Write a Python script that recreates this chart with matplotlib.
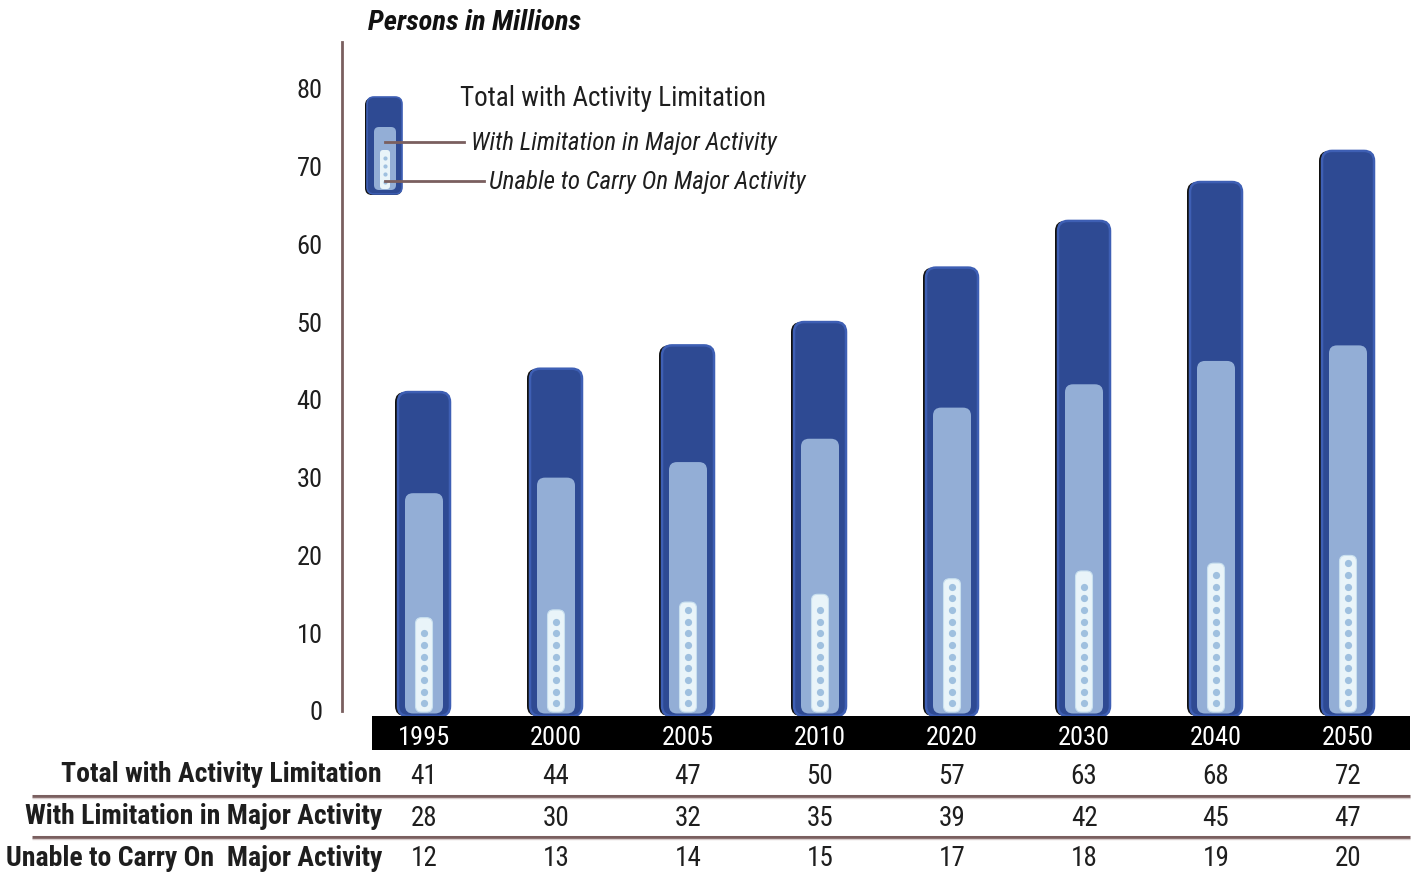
import matplotlib
matplotlib.use("Agg")
import matplotlib.pyplot as plt
from matplotlib.patches import FancyBboxPatch, Rectangle
from matplotlib.transforms import blended_transform_factory
import numpy as np

# ---- data -------------------------------------------------------------
years = ["1995", "2000", "2005", "2010", "2020", "2030", "2040", "2050"]
total_limited = [41, 44, 47, 50, 57, 63, 68, 72]
major_limited = [28, 30, 32, 35, 39, 42, 45, 47]
unable_major = [12, 13, 14, 15, 17, 18, 19, 20]
row_labels = ["Total with Activity Limitation",
              "With Limitation in Major Activity",
              "Unable to Carry On  Major Activity"]
y_ticks = [0, 10, 20, 30, 40, 50, 60, 70, 80]

# ---- style ------------------------------------------------------------
FONT = ["Liberation Sans Narrow", "Roboto Condensed", "DejaVu Sans"]
plt.rcParams["font.family"] = FONT
DARK = "#2e4a93"
RIM = "#3e5fb4"
LIGHT = "#93aed6"
PALE = "#e9f4f9"
DOT = "#9fc0df"
BROWN = "#7a5f5f"
INK = "#1e1e1e"

W, H = 1419, 873
fig = plt.figure(figsize=(W / 100, H / 100), dpi=100)
fig.patch.set_facecolor("white")

# main plotting area
ax_left, ax_right, ax_top, ax_bottom = 342, 1410, 42, 711
ax = fig.add_axes([ax_left / W, (H - ax_bottom) / H,
                   (ax_right - ax_left) / W, (ax_bottom - ax_top) / H])
x0_px, step_px = 424.0, 132.0
xmin = (ax_left - x0_px) / step_px
xmax = (ax_right - x0_px) / step_px
YMAX = 86.0
ax.set_xlim(xmin, xmax)
ax.set_ylim(0, YMAX)
ax.patch.set_alpha(0)
for s in ("top", "right", "bottom"):
    ax.spines[s].set_visible(False)
ax.spines["left"].set_color(BROWN)
ax.spines["left"].set_linewidth(2)
ax.spines["left"].set_clip_on(False)
ax.set_xticks([])
ax.set_yticks(y_ticks)
ax.set_yticklabels([str(t) for t in y_ticks])
ax.tick_params(axis="y", length=0, pad=14, labelsize=19, labelcolor=INK)

px_x = (ax_right - ax_left) / (xmax - xmin)
px_y = (ax_bottom - ax_top) / YMAX
aspect = px_x / px_y
BASE = -5.0 / px_y   # bars sit on the year band just below zero


def rounded_bar(axis, xc, width_px, top, color, radius_px, z, edge=None, lw=0,
                dx_px=0, base=BASE):
    w = width_px / px_x
    patch = FancyBboxPatch((xc - w / 2 + dx_px / px_x, base), w, top - base,
                           boxstyle=f"round,pad=0,rounding_size={radius_px / px_x}",
                           mutation_aspect=aspect, facecolor=color,
                           edgecolor=edge if edge else "none", linewidth=lw,
                           zorder=z, clip_on=False)
    axis.add_patch(patch)


xs = np.arange(len(years))
for i, x in enumerate(xs):
    # shadow, outer bar, inner bar, innermost strip with dots
    rounded_bar(ax, x, 52, total_limited[i], "#111111", 10, 2, dx_px=-3)
    rounded_bar(ax, x, 52, total_limited[i], DARK, 10, 3, edge=RIM, lw=1.8)
    rounded_bar(ax, x, 38, major_limited[i], LIGHT, 8, 4, base=BASE + 2.5 / px_y)
    rounded_bar(ax, x, 17, unable_major[i], PALE, 6, 5, edge="#c9e0ef", lw=0.8,
                base=BASE + 4 / px_y)
    dots = np.arange(1.0, unable_major[i] - 0.6, 1.5)
    ax.plot(np.full(len(dots), x), dots, "o", ms=5.2, color=DOT, mec="none", zorder=6)

# overlay in pixel coordinates for band, table, legend and title
ov = fig.add_axes([0, 0, 1, 1])
ov.set_xlim(0, W)
ov.set_ylim(H, 0)
ov.axis("off")
ov.patch.set_alpha(0)
mix = blended_transform_factory(ax.transData, ov.transData)

# black year band
ov.add_patch(Rectangle((372, 716), 1410 - 372, 34, facecolor="black", zorder=1))
for i, x in enumerate(xs):
    ov.text(x, 738, years[i], transform=mix, ha="center", va="center",
            color="white", fontsize=19, zorder=2)

# data table
row_y = [776, 818, 859]
series = [total_limited, major_limited, unable_major]
for r, (lab, vals) in enumerate(zip(row_labels, series)):
    ov.text(382, row_y[r] - 1, lab, ha="right", va="center", fontsize=20,
            fontweight="bold", color=INK)
    for i, x in enumerate(xs):
        ov.text(x, row_y[r], str(vals[i]), transform=mix, ha="center",
                va="center", fontsize=19.5, color=INK)
for yy in (795.5, 836.5):
    ov.plot([32, 1410], [yy, yy], color=BROWN, lw=2.2, solid_capstyle="butt")
    ov.plot([32, 1410], [yy + 2, yy + 2], color="#d8cccc", lw=1, solid_capstyle="butt")

# title
ov.text(368, 23, "Persons in Millions", ha="left", va="center", fontsize=20.5,
        fontweight="bold", fontstyle="italic", color="#111111")

# legend icon
def icon_box(x, y, w, h, color, r, edge=None, lw=0):
    ov.add_patch(FancyBboxPatch((x, y), w, h, boxstyle=f"round,pad=0,rounding_size={r}",
                                facecolor=color, edgecolor=edge if edge else "none",
                                linewidth=lw, zorder=3))

icon_box(365, 98, 37, 97, "#111111", 7)
icon_box(367, 97, 35, 97, DARK, 7, edge=RIM, lw=1.2)
icon_box(374, 127, 22, 63, LIGHT, 5)
icon_box(380, 150, 10, 39, PALE, 3)
for yy in (158, 166, 174, 182):
    ov.plot(385, yy, "o", ms=3, color=DOT, mec="none", zorder=4)
ov.plot([385, 464], [142, 142], color=BROWN, lw=2, zorder=5)
ov.plot([385, 484], [181, 181], color=BROWN, lw=2, zorder=5)
ov.text(460, 98, "Total with Activity Limitation", ha="left", va="center",
        fontsize=19.5, color=INK)
ov.text(471, 143, "With Limitation in Major Activity", ha="left", va="center",
        fontsize=18, fontstyle="italic", color=INK)
ov.text(489, 182, "Unable to Carry On Major Activity", ha="left", va="center",
        fontsize=18, fontstyle="italic", color=INK)

fig.savefig("out.png", dpi=100, facecolor="white")
